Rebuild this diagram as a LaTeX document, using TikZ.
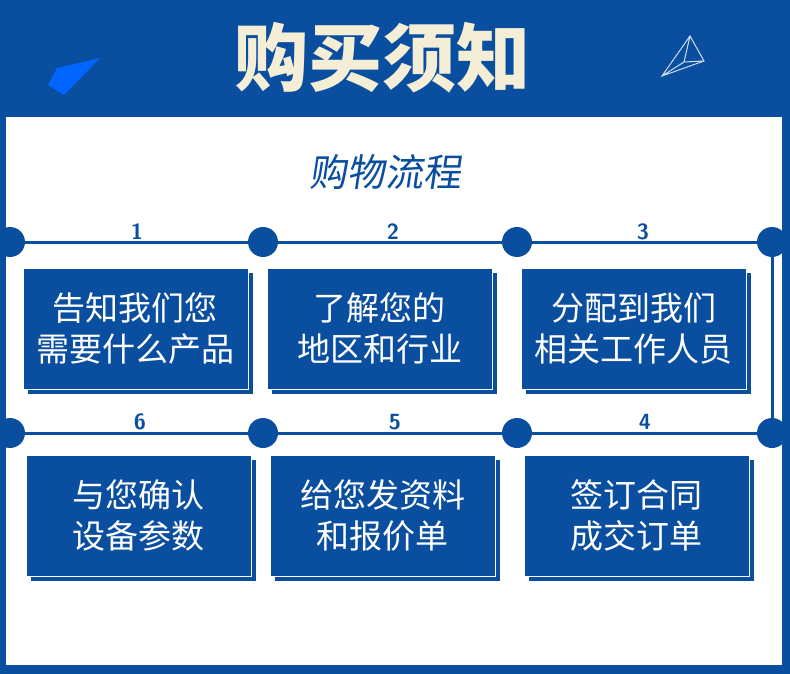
\documentclass[tikz,border=0pt]{standalone}
\usepackage{fontspec}
\newfontfamily\cjk{Noto Sans CJK SC}
\definecolor{bl}{HTML}{0A4EA0}
\definecolor{cream}{HTML}{F5EED6}
\begin{document}
\begin{tikzpicture}[x=1pt,y=-1pt,
  dot/.style={circle,fill=bl,minimum size=30pt,inner sep=0pt},
  ln/.style={draw=bl,line width=3pt},
  box/.style={fill=bl,draw=white,line width=1pt},
  btxt/.style={text=white,font=\cjk\fontsize{33}{41}\selectfont,align=center},
  num/.style={text=bl,font=\sffamily\bfseries\fontsize{22}{22}\selectfont}]
\useasboundingbox (0,0) rectangle (790,674);
\fill[bl] (0,0) rectangle (790,674);
\fill[white] (6,117) rectangle (783,665);
\fill[blue!60!cyan] (57,68) -- (100,58) -- (64,95) -- (48,85) -- cycle;
\draw[white!80!bl,line width=1pt] (662,76) -- (690,36) -- (704,61) -- cycle (690,36) -- (684,62) -- (662,76) (684,62)--(704,61);
\node[text=cream,font=\cjk\bfseries\fontsize{74}{74}\selectfont] (title) at (382,58) {购买须知};
\node[text=bl,font=\cjk\fontsize{38}{38}\selectfont,xslant=0.15] (sub) at (388,172) {购物流程};
\coordinate (a1) at (10,242); \coordinate (a4) at (772,242);
\coordinate (b1) at (10,433); \coordinate (b4) at (772,433);
\draw[ln] (a1) -- (a4) -- (b4) -- (b1);
\draw[bl,line width=5pt] (2,117) -- (2,665);
\draw[bl,line width=4pt] (784,117) -- (784,665);
\foreach \x/\n in {10/1,263/2,517/3,772/4}{
  \node[dot] (t\n) at (\x,242) {};
  \node[dot] (u\n) at (\x,433) {};}
\node[num] (n1) at (137,232) {1};
\node[num] (n2) at (393,232) {2};
\node[num] (n3) at (643,232) {3};
\node[num] (n6) at (140,422) {6};
\node[num] (n5) at (395,422) {5};
\node[num] (n4) at (645,422) {4};
\foreach \x/\y/\t [count=\i] in {23/268/{告知我们您\\需要什么产品},267/268/{了解您的\\地区和行业},521/268/{分配到我们\\相关工作人员},26/455/{与您确认\\设备参数},270/455/{给您发资料\\和报价单},524/455/{签订合同\\成交订单}}{
  \fill[bl] (\x+5,\y+5) rectangle (\x+230,\y+126);
  \draw[box] (\x,\y) rectangle (\x+225,\y+121);
  \node[btxt] (bx\i) at (\x+112.5,\y+60.5) {\t};}
\end{tikzpicture}
\end{document}
